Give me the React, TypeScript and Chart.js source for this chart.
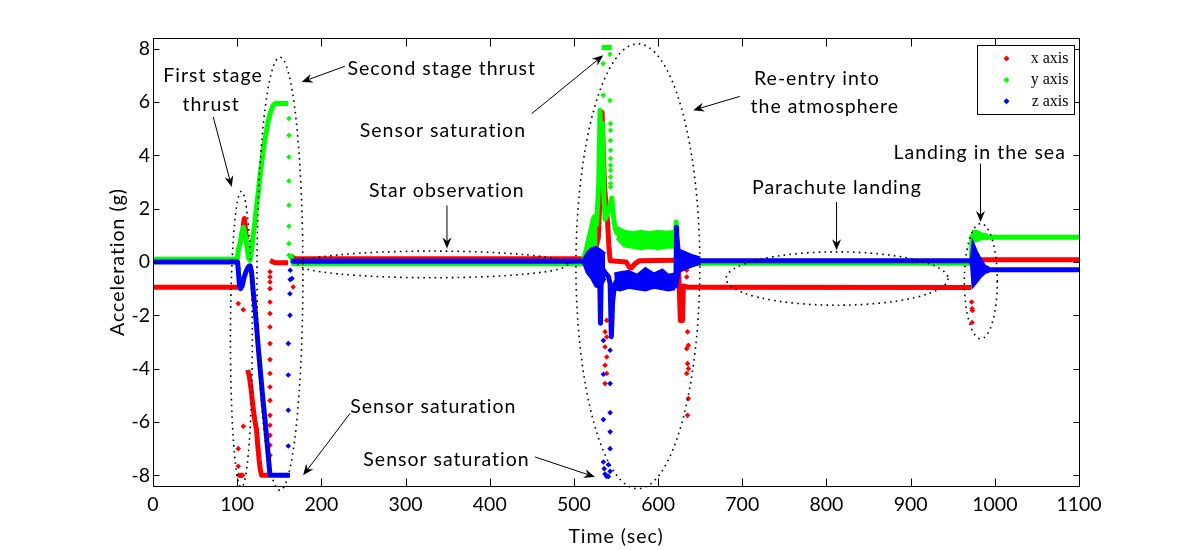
import { useEffect, useRef } from "react";
import { Chart, registerables } from "chart.js";

Chart.register(...registerables);

// axis ticks
const xTicks = [0, 100, 200, 300, 400, 500, 600, 700, 800, 900, 1000, 1100];
const yTicks = [-8, -6, -4, -2, 0, 2, 4, 6, 8];

// x axis (red) - dense runs of samples, null breaks a run
const redTime = [0, 101, 101, 106.5, 107.5, 108.5, 110, 111, 111, 112.5, 114.5, 116.5, 118, 119.5, 121, 123, 124.5, 126, 127.5, 129, 137.5, 137.5, 139, 145, 160.5, 160.5, 163, 519, 525, 529, 531, 532.5, 533.5, 535, 536.5, 538, 540, 541.5, 543, 562, 566, 568.5, 572, 578, 620, 624, 625, 626.5, 627.5, 629, 630, 636, 972, 972, 975, 1100];
const redValue = [-0.95, -0.95, null, 1.0, 1.45, 1.63, 1.2, 0.85, null, -4.05, -4.3, -4.75, -5.2, -5.6, -5.95, -6.3, -6.9, -7.4, -7.8, -8.0, -8.0, null, 0.05, -0.03, -0.03, null, 0.12, 0.12, 0.4, 0.9, 2.5, 4.5, 5.62, 4.0, 2.8, 2.2, 1.5, 0.6, 0.05, 0.0, -0.2, -0.22, -0.08, 0.05, 0.07, 0.05, -0.85, -2.2, -1.0, -2.2, -0.9, -0.95, -0.96, null, 0.08, 0.08];
// x axis (red) - isolated samples
const redDotTime = [114, 101.3, 107.3, 107.3, 101.3, 101.3, 102, 103.5, 105, 106.5, 139, 139, 139, 139, 139, 139, 139, 139, 139, 139, 139, 139, 139, 139, 139, 139, 139, 166.6, 166.6, 537, 539, 537, 539, 537, 539, 537, 539, 537, 634, 634, 635, 636, 634, 635, 636, 634, 636, 635, 972.5, 973, 973.5, 973];
const redDotValue = [0.56, -1.56, -1.79, -6.16, -7.0, -7.66, -8, -8, -8, -8, -7.25, -6.87, -6.5, -6.12, -5.75, -5.19, -4.69, -4.18, -3.66, -3.06, -2.44, -1.93, -1.5, -1.0, -0.75, -0.56, -0.37, 0.19, -0.94, -0.44, -2.19, -2.62, -2.81, -3.19, -3.56, -3.87, -4.18, -4.56, -0.31, -0.56, -2.62, -3.12, -3.25, -3.81, -4.0, -4.18, -5.12, -5.75, -1.5, -1.75, -1.82, -2.27];

// y axis (green)
const greenTime = [0, 100, 101.5, 103.5, 105.5, 107.5, 109.5, 111.5, 113.5, 115.2, 117, 119, 121, 123, 125, 127, 129, 131, 133, 135, 137, 139, 141, 143, 145, 160.7, 160.7, 163, 165, 167, 511, 513, 516, 519, 521, 523, 525, 527, 529.5, 531, 532.5, 534, 535.5, 537, 541, 545, 547, 549, 551, 556, 560, 566, 620, 621.5, 622.5, 625, 630, 972, 973, 976, 980, 985, 990, 1100, 1100, 533, 545];
const greenValue = [0.1, 0.1, 0.5, 0.7, 1.1, 1.3, 1.0, 0.6, 0.15, 0.06, 0.44, 1.0, 1.5, 2.1, 2.6, 3.2, 3.7, 4.2, 4.6, 4.95, 5.3, 5.56, 5.75, 5.88, 5.94, 5.94, null, 0.3, 0.1, -0.07, -0.07, 0.3, 0.5, 0.9, 1.3, 1.6, 1.5, 1.4, 3.0, 5.69, 3.8, 5.2, 2.5, 1.6, 1.9, 2.4, 1.7, 1.25, 1.1, 0.95, 0.85, 0.82, 0.85, 1.5, 0.2, 0.0, -0.05, -0.05, 0.96, 1.0, 0.97, 0.94, 0.93, 0.93, null, 8.04, 8.04];
// y axis (green) - envelope of the noisy stretches
const greenBandTime = [511, 515, 519, 523, 525, 528, 528, 551, 560, 570, 580, 590, 600, 610, 620, 620, 973, 978, 985, 992];
const greenBandHigh = [0.0, 0.7, 1.2, 1.7, 1.75, 1.6, null, 1.3, 1.15, 1.1, 1.15, 1.1, 1.15, 1.12, 1.15, null, 1.15, 1.15, 1.05, 1.0];
const greenBandLow = [-0.07, 0.0, 0.1, 0.3, 0.5, 0.6, null, 0.9, 0.6, 0.55, 0.5, 0.55, 0.5, 0.55, 0.55, null, 0.75, 0.8, 0.88, 0.9];
const greenDotTime = [102, 161.5, 161.5, 161.5, 161.5, 161.5, 161.5, 161.5, 161.5, 534.8, 542.8, 534.8, 542.8, 543.5, 543.5, 543.5, 543.5, 543.5, 543.5, 543.5, 543.5, 543.5, 543.5];
const greenDotValue = [-0.25, 5.38, 4.75, 3.94, 3.04, 2.13, 1.34, 0.69, 0.25, 6.25, 6.06, 7.44, 7.79, 5.19, 4.94, 4.56, 4.19, 3.88, 3.63, 3.44, 3.19, 2.94, 2.81];

// z axis (blue)
const blueTime = [0, 100.5, 101.5, 102.5, 104, 106, 108, 110, 112, 114, 115.5, 117, 118, 119, 121, 123, 125, 127, 129, 131, 133, 135, 137, 139, 162.7, 162.7, 164, 167, 511, 515, 519, 523, 527, 529, 530.5, 531.5, 532.5, 535, 537, 541, 543, 544.5, 546, 548, 550, 560, 570, 580, 590, 600, 610, 620, 621, 622, 623, 625, 630, 640, 650, 972, 973, 976, 981, 986, 992, 1100];
const blueValue = [0.0, 0.0, -0.4, -0.8, -1.0, -0.9, -0.6, -0.4, -0.25, -0.15, -0.15, -0.35, -0.7, -1.1, -1.7, -2.4, -3.2, -3.9, -4.6, -5.3, -5.9, -6.6, -7.3, -8.0, -8.0, null, 0.05, 0.03, 0.03, 0.1, -0.1, 0.05, -0.2, -0.6, -0.3, -2.3, -0.5, -0.3, -0.4, -0.55, -0.8, -2.8, -1.5, -0.9, -0.75, -0.72, -0.78, -0.74, -0.7, -0.76, -0.72, -0.74, -0.9, 1.3, -0.3, 0.1, 0.05, 0.05, 0.05, 0.05, -0.1, -0.2, -0.25, -0.28, -0.29, -0.29];
const blueBandTime = [511, 516, 521, 526, 531, 537, 537, 548, 555, 565, 575, 585, 595, 605, 612, 620, 620, 622, 625, 632, 640, 650, 650, 972, 974, 978, 983, 988, 993];
const blueBandHigh = [0.05, 0.35, 0.5, 0.55, 0.45, 0.3, null, -0.45, -0.4, -0.35, -0.5, -0.25, -0.45, -0.3, -0.5, -0.45, null, 1.3, 0.45, 0.35, 0.25, 0.15, null, 0.05, 0.7, 0.4, 0.1, -0.15, -0.22];
const blueBandLow = [0.0, -0.4, -0.6, -0.9, -0.95, -0.6, null, -1.0, -1.05, -0.95, -1.0, -1.05, -0.95, -1.0, -1.05, -1.0, null, -0.9, -0.35, -0.25, -0.15, -0.05, null, 0.05, -0.9, -0.75, -0.55, -0.4, -0.35];
const blueDotTime = [163, 163, 162.7, 162.7, 160.7, 160.7, 160.7, 160.7, 165, 535, 543, 535, 543, 543, 535, 543, 543, 535, 536, 537, 539, 541, 543, 541];
const blueDotValue = [-0.31, -0.66, -1.19, -2.0, -3.06, -4.24, -5.56, -6.9, -0.62, -2.94, -3.31, -4.21, -4.56, -5.65, -5.91, -6.37, -7.0, -7.5, -7.75, -7.95, -8.04, -8.04, -7.85, -7.6];

// annotations, in data units (seconds, g)
const ellipses = [
  { t: 105, g: -2.9, rt: 13, rg: 5.55 },
  { t: 150.8, g: -0.44, rt: 27.3, rg: 8.12 },
  { t: 332.5, g: -0.09, rt: 160, rg: 0.5 },
  { t: 576, g: -0.16, rt: 73.6, rg: 8.34 },
  { t: 812.6, g: -0.62, rt: 131.8, rg: 1.0 },
  { t: 983.4, g: -0.72, rt: 19.6, rg: 2.16 },
];
const notes = [
  { text: "First stage", t: 71.3, g: 7.0 },
  { text: "thrust", t: 69, g: 5.91 },
  { text: "Second stage thrust", t: 343, g: 7.23 },
  { text: "Sensor saturation", t: 344.4, g: 4.94 },
  { text: "Re-entry into", t: 788.6, g: 6.89 },
  { text: "the atmosphere", t: 798, g: 5.84 },
  { text: "Star observation", t: 349, g: 2.69 },
  { text: "Parachute landing", t: 812.4, g: 2.8 },
  { text: "Landing in the sea", t: 982, g: 4.11 },
  { text: "Sensor saturation", t: 333, g: -5.41 },
  { text: "Sensor saturation", t: 348.6, g: -7.4 },
];
const arrows = [
  { t1: 71.6, g1: 5.44, t2: 93.5, g2: 2.81 },
  { t1: 228, g1: 7.34, t2: 176.6, g2: 6.75 },
  { t1: 449.8, g1: 5.56, t2: 534.8, g2: 7.75 },
  { t1: 697, g1: 6.21, t2: 641.7, g2: 5.69 },
  { t1: 349.2, g1: 2.12, t2: 349.2, g2: 0.51 },
  { t1: 812, g1: 2.25, t2: 812, g2: 0.44 },
  { t1: 983, g1: 3.69, t2: 983, g2: 1.5 },
  { t1: 234, g1: -5.68, t2: 178.3, g2: -8.0 },
  { t1: 453.7, g1: -7.31, t2: 525, g2: -8.06 },
];

const SANS = 'Lato, "Open Sans", sans-serif';
const FONT_SIZE = 19.5;
const RED = "#ff0000";
const GREEN = "#00ff00";
const BLUE = "#0000ff";

const pts = (t: number[], v: (number | null)[]) => t.map((x, i) => ({ x, y: v[i] }));

function runs(t: number[], v: (number | null)[], color: string, order: number) {
  return {
    data: pts(t, v),
    showLine: true,
    spanGaps: false,
    pointRadius: 0,
    borderColor: color,
    borderWidth: 5,
    borderCapStyle: "butt" as const,
    borderJoinStyle: "round" as const,
    order,
  };
}

// upper + lower edge, the lower one filled up to the upper one
function band(t: number[], hi: (number | null)[], lo: (number | null)[], color: string, order: number) {
  const base = {
    type: "line" as const,
    spanGaps: false,
    pointRadius: 0,
    borderColor: color,
    borderWidth: 3,
    backgroundColor: color,
    tension: 0,
    order,
  };
  return [
    { ...base, data: pts(t, hi), fill: false },
    { ...base, data: pts(t, lo), fill: "-1" },
  ];
}

function dots(t: number[], v: number[], color: string, order: number) {
  return {
    data: pts(t, v),
    showLine: false,
    pointStyle: "rectRot" as const,
    pointRadius: 2.8,
    pointBorderWidth: 0,
    backgroundColor: color,
    borderColor: color,
    order,
  };
}

function arrowHead(ctx: CanvasRenderingContext2D, x1: number, y1: number, x2: number, y2: number) {
  const ang = Math.atan2(y2 - y1, x2 - x1);
  const L = 11;
  const W = 4.5;
  ctx.beginPath();
  ctx.moveTo(x1, y1);
  ctx.lineTo(x2 - Math.cos(ang) * 6, y2 - Math.sin(ang) * 6);
  ctx.stroke();
  ctx.save();
  ctx.translate(x2, y2);
  ctx.rotate(ang);
  ctx.beginPath();
  ctx.moveTo(0, 0);
  ctx.lineTo(-L, -W);
  ctx.lineTo(-L + 3.5, 0);
  ctx.lineTo(-L, W);
  ctx.closePath();
  ctx.fill();
  ctx.restore();
}

const annotate = {
  id: "annotate",
  afterDatasetsDraw(chart: any) {
    const { ctx, chartArea: a, scales } = chart;
    const px = (t: number) => scales.x.getPixelForValue(t);
    const py = (g: number) => scales.y.getPixelForValue(g);
    ctx.save();
    ctx.strokeStyle = "#000";
    ctx.fillStyle = "#000";

    // dotted ellipses
    ctx.lineWidth = 1.6;
    ctx.setLineDash([1.6, 4.2]);
    for (const e of ellipses) {
      ctx.beginPath();
      ctx.ellipse(px(e.t), py(e.g), Math.abs(px(e.t + e.rt) - px(e.t)), Math.abs(py(e.g + e.rg) - py(e.g)), 0, 0, Math.PI * 2);
      ctx.stroke();
    }
    ctx.setLineDash([]);

    // arrows
    ctx.lineWidth = 1;
    for (const r of arrows) arrowHead(ctx, px(r.t1), py(r.g1), px(r.t2), py(r.g2));

    // text, slightly spaced like the original
    ctx.font = `${FONT_SIZE}px ${SANS}`;
    ctx.letterSpacing = "1px";
    ctx.textAlign = "center";
    ctx.textBaseline = "middle";
    for (const n of notes) ctx.fillText(n.text, px(n.t), py(n.g));

    // axis titles
    ctx.fillText("Time (sec)", (a.left + a.right) / 2, 537);
    ctx.save();
    ctx.translate(118, (a.top + a.bottom) / 2);
    ctx.rotate(-Math.PI / 2);
    ctx.fillText("Acceleration (g)", 0, 0);
    ctx.restore();
    ctx.letterSpacing = "0px";

    // box with inward ticks
    ctx.lineWidth = 1;
    const L = Math.round(a.left) + 0.5;
    const R = Math.round(a.right) + 0.5;
    const T = Math.round(a.top) + 0.5;
    const B = Math.round(a.bottom) + 0.5;
    ctx.strokeRect(L, T, R - L, B - T);
    ctx.beginPath();
    for (const v of xTicks) {
      const x = Math.round(px(v)) + 0.5;
      ctx.moveTo(x, B); ctx.lineTo(x, B - 8);
      ctx.moveTo(x, T); ctx.lineTo(x, T + 8);
    }
    for (const v of yTicks) {
      const y = Math.round(py(v)) + 0.5;
      ctx.moveTo(L, y); ctx.lineTo(L + 6, y);
      ctx.moveTo(R, y); ctx.lineTo(R - 6, y);
    }
    ctx.stroke();

    // legend
    const lx = Math.round(a.right) - 102 + 0.5;
    const ly = Math.round(a.top) + 7 + 0.5;
    ctx.fillStyle = "#fff";
    ctx.fillRect(lx, ly, 97, 69);
    ctx.strokeRect(lx, ly, 97, 69);
    const entries = [["x axis", RED], ["y axis", GREEN], ["z axis", BLUE]];
    ctx.font = `16px "Liberation Serif", serif`;
    ctx.textAlign = "right";
    entries.forEach(([label, color], i) => {
      const cy = ly + 13 + i * 21.4;
      const cx = lx + 29;
      ctx.fillStyle = color;
      ctx.beginPath();
      ctx.moveTo(cx, cy - 3); ctx.lineTo(cx + 3, cy); ctx.lineTo(cx, cy + 3); ctx.lineTo(cx - 3, cy);
      ctx.closePath();
      ctx.fill();
      ctx.fillStyle = "#000";
      ctx.fillText(label, lx + 91, cy);
    });
    ctx.restore();
  },
};

export default function App() {
  const canvasRef = useRef<HTMLCanvasElement>(null);

  useEffect(() => {
    if (!canvasRef.current) return;
    Chart.defaults.font.family = SANS;
    Chart.defaults.font.size = FONT_SIZE;
    Chart.defaults.color = "#000";

    const chart = new Chart(canvasRef.current, {
      type: "scatter",
      data: {
        datasets: [
          runs(redTime, redValue, RED, 3),
          dots(redDotTime, redDotValue, RED, 3),
          ...band(greenBandTime, greenBandHigh, greenBandLow, GREEN, 2),
          runs(greenTime, greenValue, GREEN, 2),
          dots(greenDotTime, greenDotValue, GREEN, 2),
          ...band(blueBandTime, blueBandHigh, blueBandLow, BLUE, 1),
          runs(blueTime, blueValue, BLUE, 1),
          dots(blueDotTime, blueDotValue, BLUE, 1),
        ] as any,
      },
      options: {
        responsive: true,
        maintainAspectRatio: false,
        animation: false,
        layout: { padding: { left: 0, right: 115, top: 38, bottom: 0 } },
        plugins: {
          legend: { display: false },
          tooltip: { enabled: false },
        },
        scales: {
          x: {
            type: "linear",
            min: 0,
            max: 1100,
            afterBuildTicks: (s: any) => {
              s.ticks = xTicks.map((value) => ({ value }));
            },
            afterFit: (s: any) => {
              s.height = 64;
            },
            grid: { display: false, drawTicks: false },
            border: { display: false },
            ticks: { padding: 7, color: "#000", maxRotation: 0, callback: (v: any) => String(v) },
          },
          y: {
            type: "linear",
            min: -8.4,
            max: 8.4,
            afterBuildTicks: (s: any) => {
              s.ticks = yTicks.map((value) => ({ value }));
            },
            afterFit: (s: any) => {
              s.width = 153;
            },
            grid: { display: false, drawTicks: false },
            border: { display: false },
            ticks: { padding: 3, color: "#000", callback: (v: any) => String(v) },
          },
        },
      },
      plugins: [annotate],
    });

    return () => chart.destroy();
  }, []);

  return (
    <div style={{ position: "absolute", left: 0, top: 0, width: 1194, height: 550, background: "#fff" }}>
      <canvas ref={canvasRef} />
    </div>
  );
}
